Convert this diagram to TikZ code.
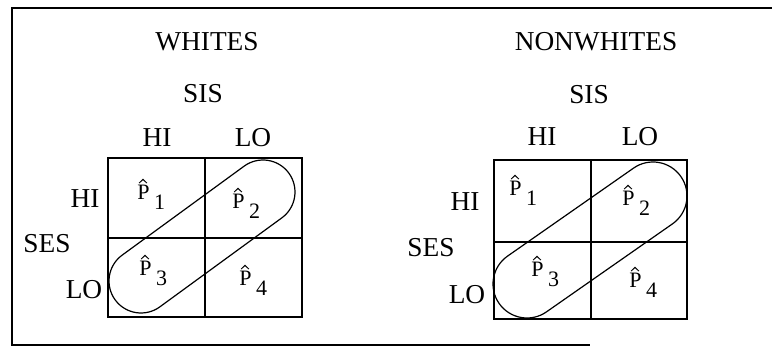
\documentclass[tikz,border=0pt]{standalone}
\usepackage{fontspec}
\setmainfont{Liberation Serif}
\usetikzlibrary{calc}
\newcommand{\plabtext}[1]{\fontsize{16.5}{16.5}\selectfont P\hspace{3.5pt}\raisebox{-7pt}{#1}}
\newcommand{\hatover}[1]{\draw[hatline] ($(#1.base west)+(2.2,17)$) -- ++(3.8,3.6) -- ++(3.8,-3.6);}
\begin{document}
\begin{tikzpicture}[x=0.75pt,y=0.75pt,
  lab/.style={font=\fontsize{20.5}{22}\selectfont, inner sep=0pt},
  plab/.style={inner sep=0pt, anchor=base west},
  hatline/.style={line width=0.75pt},
  gridline/.style={line width=1.1pt},
  frameline/.style={line width=1.2pt},
  capsule/.style={line width=0.9pt, line join=round}]
\useasboundingbox (0,0) rectangle (772,350);

% frame
\coordinate (ftr) at (772,342);
\coordinate (ftl) at (12,342);
\coordinate (fbl) at (12,5);
\coordinate (fbr) at (590,5);
\draw[frameline] (ftr) -- (ftl) -- (fbl) -- (fbr);

% ---------- WHITES ----------
\node[lab] (tw) at (207,308) {WHITES};
\node[lab] (sisw) at (203,256) {SIS};
\node[lab] (hicw) at (157,212) {HI};
\node[lab] (locw) at (253,212) {LO};
\node[lab] (hirw) at (85,151) {HI};
\node[lab] (sesw) at (47,106) {SES};
\node[lab] (lorw) at (84,60) {LO};

\draw[gridline] (108,33) rectangle (302,192);
\draw[gridline] (205,33) -- (205,192);
\draw[gridline] (108,112) -- (302,112);

\node[plab] (p1w) at (137,150) {\plabtext{1}};
\node[plab] (p2w) at (232,141) {\plabtext{2}};
\node[plab] (p3w) at (139,74) {\plabtext{3}};
\node[plab] (p4w) at (239,64) {\plabtext{4}};
\hatover{p1w}\hatover{p2w}\hatover{p3w}\hatover{p4w}

\coordinate (aw) at (141,69);
\coordinate (bw) at (263,158);
\draw[capsule] ($(aw)+(126.1:32)$) -- ($(bw)+(126.1:32)$)
  arc[start angle=126.1, end angle=-53.9, radius=32]
  -- ($(aw)+(-53.9:32)$)
  arc[start angle=-53.9, end angle=-233.9, radius=32] -- cycle;

% ---------- NONWHITES ----------
\node[lab] (tn) at (596,308) {NONWHITES};
\node[lab] (sisn) at (589,255) {SIS};
\node[lab] (hicn) at (542,213) {HI};
\node[lab] (locn) at (640,213) {LO};
\node[lab] (hirn) at (465,148) {HI};
\node[lab] (sesn) at (431,102) {SES};
\node[lab] (lorn) at (467,55) {LO};

\draw[gridline] (494,31) rectangle (687,190);
\draw[gridline] (591,31) -- (591,190);
\draw[gridline] (494,108) -- (687,108);

\node[plab] (p1n) at (509,154) {\plabtext{1}};
\node[plab] (p2n) at (622,144) {\plabtext{2}};
\node[plab] (p3n) at (531,73) {\plabtext{3}};
\node[plab] (p4n) at (629,62) {\plabtext{4}};
\hatover{p1n}\hatover{p2n}\hatover{p3n}\hatover{p4n}

\coordinate (an) at (527,66);
\coordinate (bn) at (653,154);
\draw[capsule] ($(an)+(124.9:34)$) -- ($(bn)+(124.9:34)$)
  arc[start angle=124.9, end angle=-55.1, radius=34]
  -- ($(an)+(-55.1:34)$)
  arc[start angle=-55.1, end angle=-235.1, radius=34] -- cycle;
\end{tikzpicture}
\end{document}
